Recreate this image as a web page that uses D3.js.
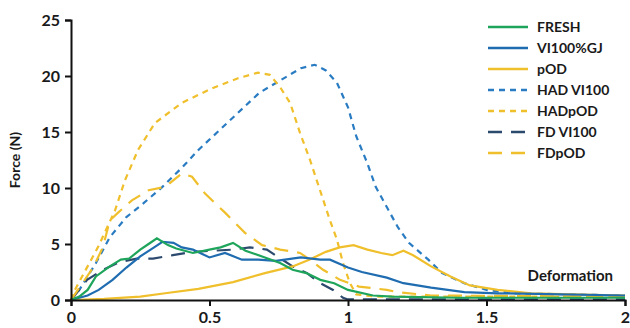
<!DOCTYPE html>
<html>
<head>
<meta charset="utf-8">
<script src="https://cdn.jsdelivr.net/npm/d3@7"></script>
<style>
  body { margin: 0; background: #fff; }
  svg text { font-family: Lato, "Open Sans", sans-serif; font-weight: bold; fill: #1a1a1a; }
</style>
</head>
<body>
<svg id="chart"></svg>
<script>
const SVG_W = 630;
const SVG_H = 328;
const MARGIN = { top: 20, right: 5, bottom: 28, left: 71 };
const W = SVG_W - MARGIN.left - MARGIN.right;
const H = SVG_H - MARGIN.top - MARGIN.bottom;

const xTicks = [0, 0.5, 1, 1.5, 2];
const xTickLabels = ['0', '0.5', '1', '1.5', '2'];
const yTicks = [0, 5, 10, 15, 20, 25];

const seriesNames  = ['FRESH', 'VI100%GJ', 'pOD', 'HAD VI100', 'HADpOD', 'FD VI100', 'FDpOD'];
const seriesColors = ['#1ea55b', '#1f6cb0', '#f0bf2c', '#2a7cc2', '#f0bf2c', '#2b4a6e', '#f0bf2c'];
const seriesDashes = [null, null, null, '6,5', '6,5', '14,9', '14,9'];

const fresh = [
  [0, 0], [0.03, 0.3], [0.06, 0.9], [0.09, 2.1], [0.14, 3.0], [0.18, 3.6], [0.21, 3.7],
  [0.25, 4.5], [0.28, 5.0], [0.31, 5.5], [0.35, 4.9], [0.38, 4.6], [0.44, 4.2], [0.5, 4.5],
  [0.54, 4.7], [0.585, 5.1], [0.63, 4.4], [0.7, 3.8], [0.755, 3.3], [0.8, 2.7], [0.85, 2.4],
  [0.9, 1.8], [0.95, 1.5], [1.0, 0.9], [1.09, 0.4], [1.16, 0.3], [1.4, 0.2], [2.0, 0.2]
];
const vi100gj = [
  [0, 0], [0.06, 0.4], [0.1, 0.9], [0.15, 1.8], [0.2, 2.9], [0.25, 3.9], [0.3, 4.7],
  [0.33, 5.2], [0.37, 5.1], [0.4, 4.7], [0.44, 4.5], [0.5, 3.8], [0.556, 4.2], [0.617, 3.6],
  [0.675, 3.6], [0.74, 3.5], [0.83, 3.8], [0.9, 3.6], [0.935, 3.6], [1.0, 2.9], [1.05, 2.5],
  [1.14, 2.0], [1.2, 1.5], [1.3, 1.1], [1.42, 0.7], [1.54, 0.6], [2.0, 0.4]
];
const pod = [
  [0, 0], [0.12, 0.1], [0.25, 0.3], [0.34, 0.6], [0.46, 1.0], [0.585, 1.6], [0.7, 2.4],
  [0.8, 3.0], [0.86, 3.6], [0.92, 4.3], [0.97, 4.7], [1.02, 4.9], [1.07, 4.5], [1.12, 4.2],
  [1.16, 4.0], [1.2, 4.4], [1.235, 4.0], [1.3, 3.0], [1.37, 2.1], [1.44, 1.3], [1.54, 0.9],
  [1.66, 0.6], [2.0, 0.4]
];
const hadVi100 = [
  [0, 0], [0.03, 0.9], [0.09, 3.3], [0.14, 5.6], [0.2, 7.4], [0.26, 8.6], [0.33, 10.1],
  [0.4, 11.8], [0.46, 13.4], [0.585, 16.3], [0.68, 18.5], [0.755, 19.6], [0.83, 20.7],
  [0.88, 21.0], [0.92, 20.5], [0.96, 19.4], [1.0, 17.2], [1.03, 14.6], [1.07, 12.2],
  [1.1, 10.1], [1.14, 8.3], [1.18, 6.5], [1.22, 5.1], [1.29, 3.6], [1.34, 2.4],
  [1.42, 1.5], [1.5, 0.9], [1.6, 0.6], [2.0, 0.4]
];
const hadPod = [
  [0, 0], [0.014, 0.9], [0.097, 4.7], [0.159, 8.0], [0.195, 10.7], [0.242, 13.4],
  [0.303, 15.8], [0.4, 17.6], [0.509, 18.9], [0.603, 19.8], [0.675, 20.3], [0.718, 20.1],
  [0.755, 19.0], [0.791, 17.6], [0.827, 14.9], [0.863, 12.5], [0.899, 9.8], [0.935, 7.1],
  [0.96, 5.4], [0.982, 3.3], [1.007, 1.5], [1.03, 0.5], [1.1, 0.3], [2.0, 0.3]
];
const fdVi100 = [
  [0, 0], [0.058, 1.8], [0.116, 2.7], [0.177, 3.4], [0.238, 3.7], [0.296, 3.7], [0.368, 4.0],
  [0.44, 4.3], [0.585, 4.5], [0.646, 4.7], [0.707, 4.5], [0.744, 3.9], [0.8, 3.0],
  [0.852, 2.4], [0.9, 1.5], [0.946, 0.9], [0.982, 0.2], [1.0, 0.05], [2.0, 0.05]
];
const fdPod = [
  [0, 0], [0.08, 2.9], [0.115, 4.7], [0.14, 7.1], [0.17, 7.8], [0.22, 8.9], [0.28, 9.8],
  [0.34, 10.1], [0.4, 11.3], [0.437, 11.0], [0.484, 9.5], [0.556, 7.8], [0.628, 6.0],
  [0.69, 4.9], [0.755, 4.5], [0.827, 4.2], [0.863, 3.6], [0.91, 2.7], [0.971, 1.8],
  [1.04, 1.2], [1.14, 0.9], [1.18, 0.7], [1.3, 0.4], [2.0, 0.3]
];
const seriesData = [fresh, vi100gj, pod, hadVi100, hadPod, fdVi100, fdPod];

const xScale = d3.scaleLinear().domain([0, 2]).range([0, W]);
const yScale = d3.scaleLinear().domain([0, 25]).range([H, 0]);

const svg = d3.select('#chart')
  .attr('width', SVG_W)
  .attr('height', SVG_H);

const g = svg.append('g')
  .attr('transform', `translate(${MARGIN.left},${MARGIN.top})`);

const line = d3.line()
  .x(d => xScale(d[0]))
  .y(d => yScale(d[1]));

// dashed curves first, solid ones on top
const drawOrder = [3, 4, 5, 6, 2, 1, 0];
drawOrder.forEach(i => {
  g.append('path')
    .datum(seriesData[i])
    .attr('fill', 'none')
    .attr('stroke', seriesColors[i])
    .attr('stroke-width', 2.2)
    .attr('stroke-dasharray', seriesDashes[i])
    .attr('d', line);
});

// axes
const yAxis = g.append('g')
  .call(d3.axisLeft(yScale).tickValues(yTicks).tickSize(6).tickPadding(5));
const xAxis = g.append('g')
  .attr('transform', `translate(0,${H})`)
  .call(d3.axisBottom(xScale).tickValues(xTicks).tickFormat((d, i) => xTickLabels[i]).tickSize(6).tickPadding(6));

[xAxis, yAxis].forEach(ax => {
  ax.select('.domain').attr('stroke', '#111').attr('stroke-width', 2);
  ax.selectAll('.tick line').attr('stroke', '#111').attr('stroke-width', 2);
  ax.selectAll('.tick text')
    .attr('fill', '#1a1a1a')
    .style('font-size', '16px')
    .style('font-family', 'Lato, "Open Sans", sans-serif')
    .style('font-weight', 'bold');
});

g.append('text')
  .attr('transform', `translate(-51,${H / 2}) rotate(-90)`)
  .attr('text-anchor', 'middle')
  .style('font-size', '14px')
  .text('Force (N)');

g.append('text')
  .attr('x', W - 12)
  .attr('y', 261)
  .attr('text-anchor', 'end')
  .style('font-size', '15px')
  .text('Deformation');

// legend
const legend = g.append('g')
  .attr('transform', `translate(${488 - MARGIN.left},${27 - MARGIN.top})`);

seriesNames.forEach((name, i) => {
  const row = legend.append('g').attr('transform', `translate(0,${i * 21})`);
  row.append('line')
    .attr('x1', 0).attr('x2', 40)
    .attr('y1', 0).attr('y2', 0)
    .attr('stroke', seriesColors[i])
    .attr('stroke-width', 2.5)
    .attr('stroke-dasharray', seriesDashes[i]);
  row.append('text')
    .attr('x', 49)
    .attr('y', 5)
    .style('font-size', '14px')
    .text(name);
});
</script>
</body>
</html>
